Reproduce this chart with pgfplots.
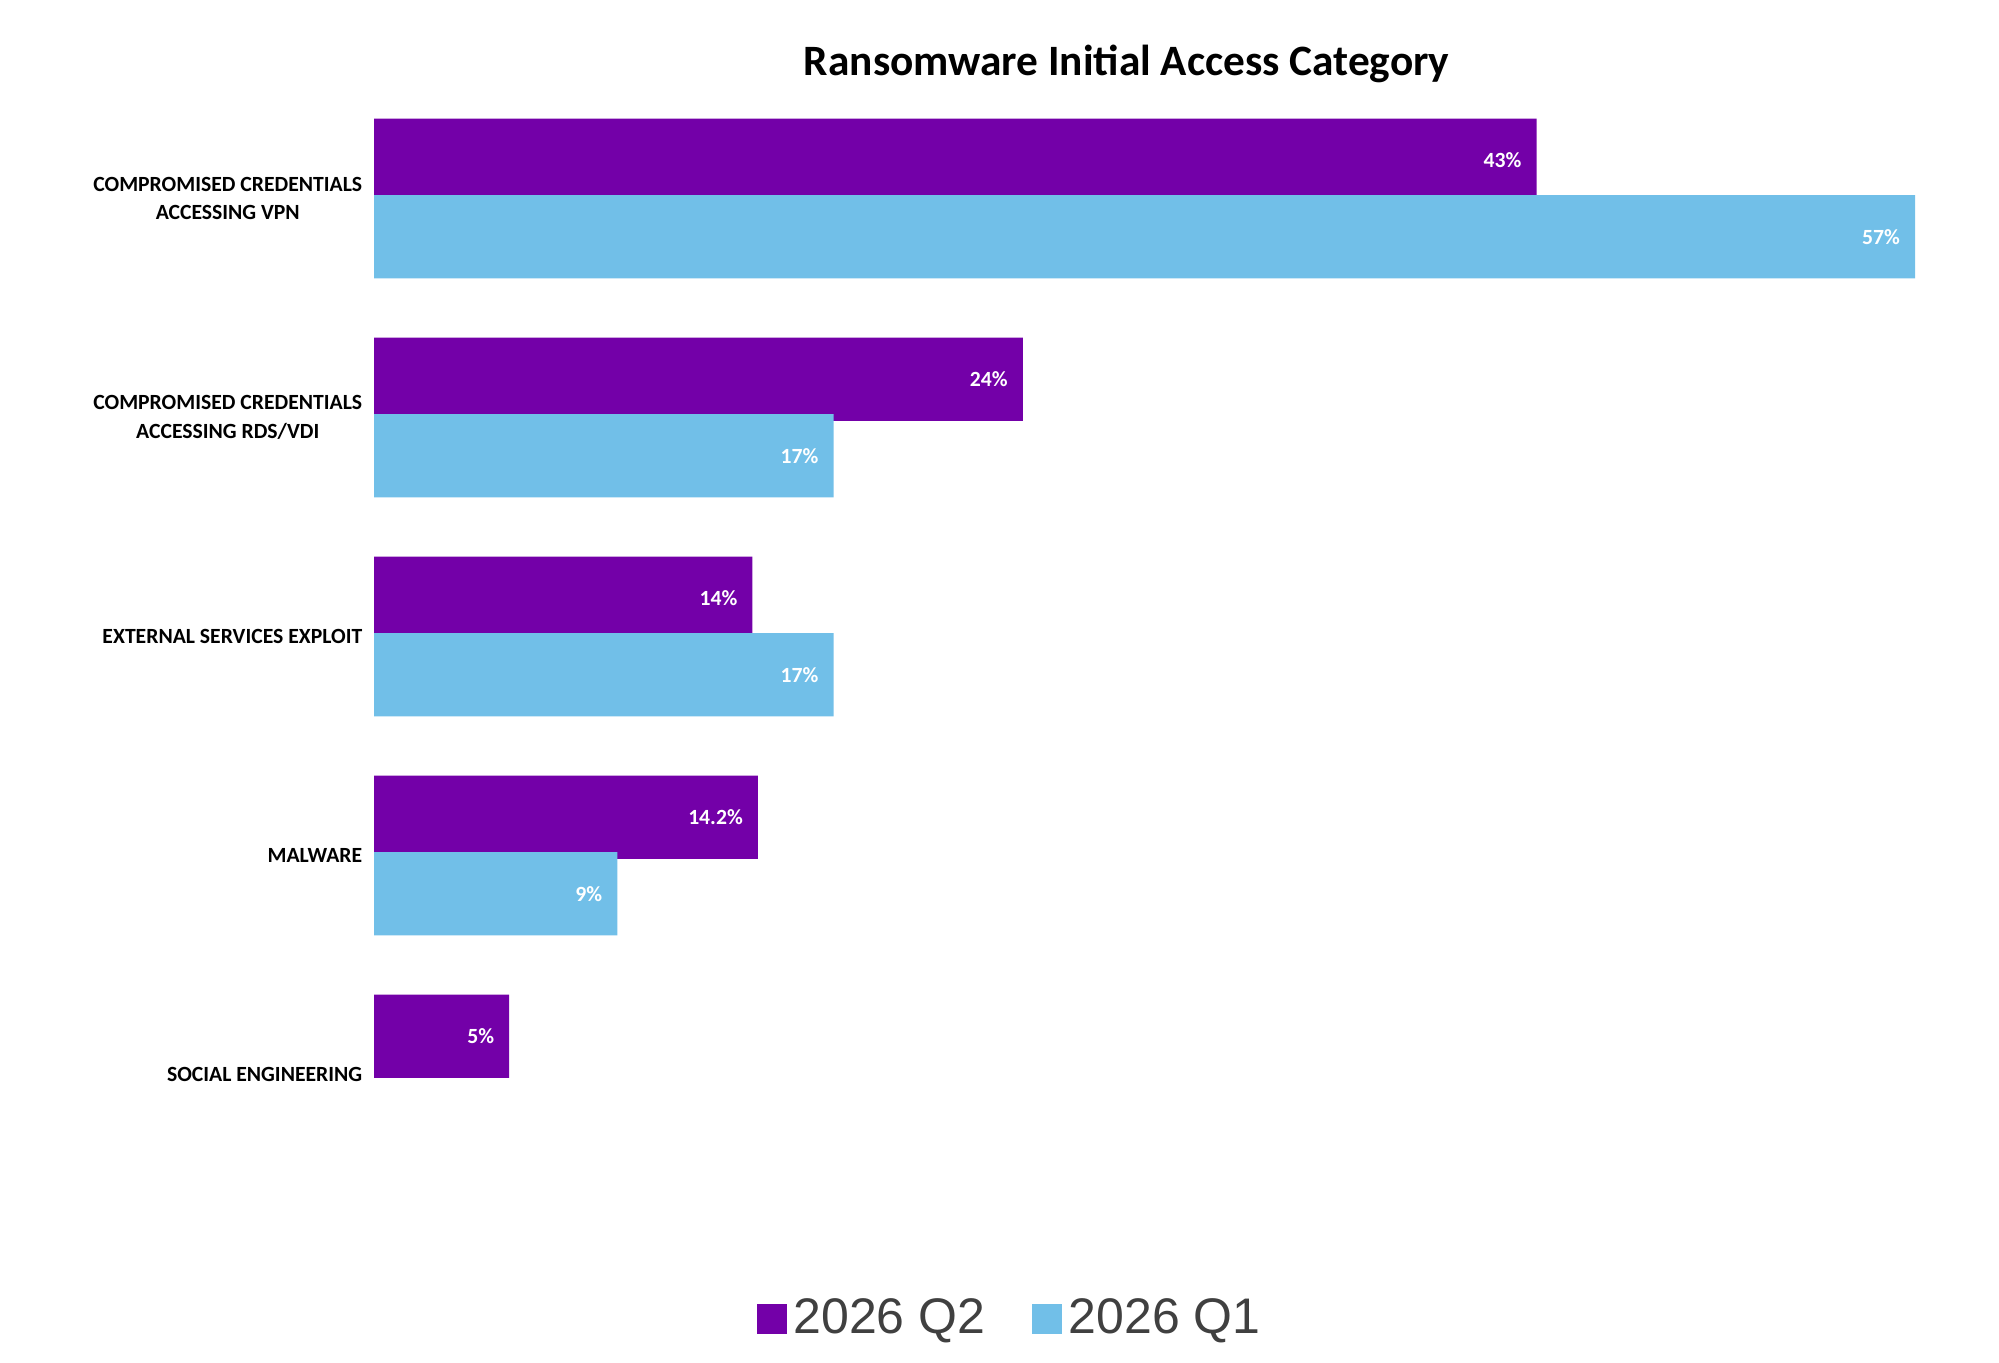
\documentclass[border=0pt]{standalone}
\usepackage{pgfplots}
\pgfplotsset{compat=1.18}
\usepackage{fontspec}
\setmainfont{Carlito}
\newfontfamily\legfont{Liberation Sans}
\definecolor{cpur}{HTML}{7300A8}
\definecolor{cblue}{HTML}{71BFE8}
\definecolor{cleg}{HTML}{404040}
\begin{document}
\begin{tikzpicture}
\path (0,0) rectangle (599.7pt,408.9pt);
\node[font=\fontsize{13}{15}\selectfont\bfseries] at (338pt,389.7pt) {Ransomware Initial Access Category};
\begin{axis}[at={(112.2pt,53.7pt)}, anchor=south west, scale only axis,
 width=462.3pt, height=328.5pt,
 xbar, xmin=0, xmax=57, ymin=-0.5, ymax=4.5, y dir=reverse,
 bar width=0.38, bar shift auto,
 hide x axis, axis y line*=left, y axis line style={draw=none},
 ytick={0,1,2,3,4},
 yticklabels={{COMPROMISED CREDENTIALS\\ACCESSING VPN},{COMPROMISED CREDENTIALS\\ACCESSING RDS/VDI},{EXTERNAL SERVICES EXPLOIT},{MALWARE},{SOCIAL ENGINEERING}},
 yticklabel style={align=center, font=\fontsize{6.5}{8.5}\selectfont\bfseries},
 major tick length=0pt,
 /pgf/number format/assume math mode=true,
 nodes near coords={\pgfmathprintnumber{\pgfplotspointmeta}\%},
 nodes near coords style={anchor=east, xshift=-1pt, white, font=\fontsize{6.5}{8}\selectfont\bfseries},
 point meta=x,
 legend style={legend columns=2, draw=none, at={(0.414,-0.123)}, anchor=center, font=\legfont\fontsize{15}{17}\selectfont, text=cleg, /tikz/every even column/.append style={column sep=12pt}},
 legend cell align=left,
 legend image code/.code={\fill[#1] (0pt,-4.5pt) rectangle (9pt,4.5pt);},
 clip=false]
\addplot[fill=cpur, draw=none] coordinates {(43,0) (24,1) (14,2) (14.2,3) (5,4)};
\addplot[fill=cblue, draw=none] coordinates {(57,0) (17,1) (17,2) (9,3)};
\legend{2026 Q2, 2026 Q1}
\end{axis}
\end{tikzpicture}
\end{document}
